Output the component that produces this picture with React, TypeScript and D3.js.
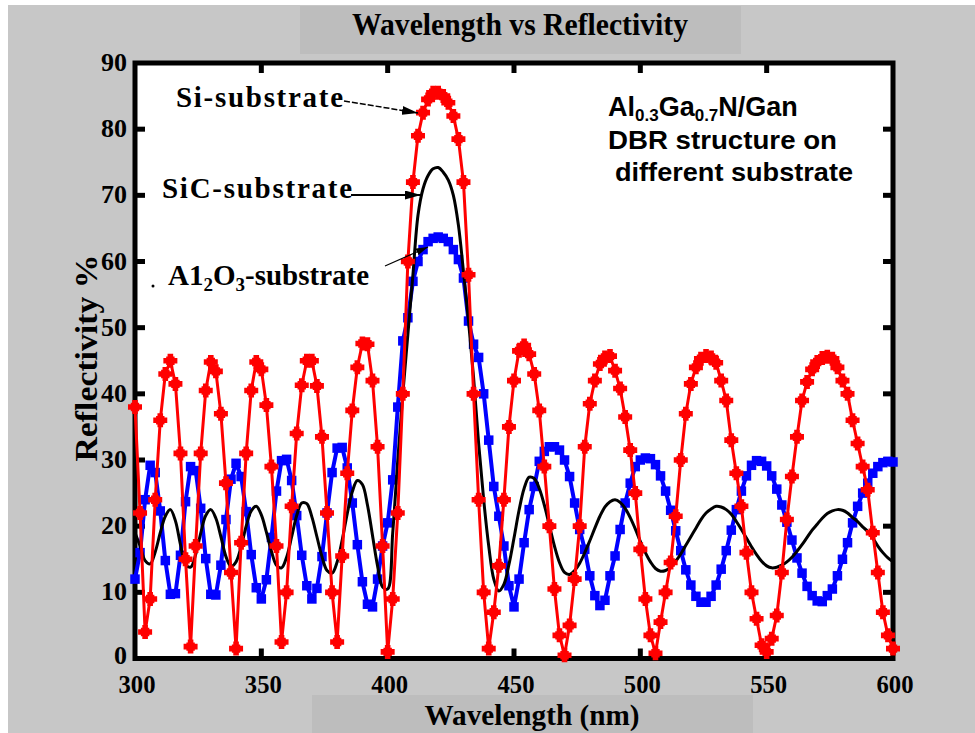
import React from "react";
import * as d3 from "d3";

const wavelengths = [
  300, 302, 304, 306, 308, 310, 312, 314, 316, 318,
  320, 322, 324, 326, 328, 330, 332, 334, 336, 338,
  340, 342, 344, 346, 348, 350, 352, 354, 356, 358,
  360, 362, 364, 366, 368, 370, 372, 374, 376, 378,
  380, 382, 384, 386, 388, 390, 392, 394, 396, 398,
  400, 402, 404, 406, 408, 410, 412, 414, 416, 418,
  420, 422, 424, 426, 428, 430, 432, 434, 436, 438,
  440, 442, 444, 446, 448, 450, 452, 454, 456, 458,
  460, 462, 464, 466, 468, 470, 472, 474, 476, 478,
  480, 482, 484, 486, 488, 490, 492, 494, 496, 498,
  500, 502, 504, 506, 508, 510, 512, 514, 516, 518,
  520, 522, 524, 526, 528, 530, 532, 534, 536, 538,
  540, 542, 544, 546, 548, 550, 552, 554, 556, 558,
  560, 562, 564, 566, 568, 570, 572, 574, 576, 578,
  580, 582, 584, 586, 588, 590, 592, 594, 596, 598,
  600,
];

// Si-substrate (red, cross markers)
const siSubstrate = [
  38, 22, 4, 9, 24, 36, 43, 45, 41.5, 31,
  15, 1.8, 17, 31, 40.5, 44.8, 43.4, 37, 26.5, 13,
  1.5, 17.5, 31, 40.5, 44.8, 43.7, 38.3, 29, 17, 2.5,
  10, 23, 34, 41.3, 45, 45, 41.2, 33.5, 22, 10,
  2.5, 15.5, 28, 37.5, 44, 47.6, 47.5, 42, 32, 17,
  1, 9, 22, 40, 60, 72, 79, 82.5, 84.5, 85.5,
  85.5, 85, 84, 82, 78.5, 72, 58, 40, 24, 10,
  1.5, 7, 14, 24, 35, 42, 46.5, 47.3, 46, 43,
  37.5, 29, 20, 10.5, 3.5, 0.5, 5, 12, 20, 32,
  38.5, 42, 44.5, 45.5, 45.7, 43.5, 40.8, 36.5, 31.5, 25,
  16.5, 9, 3.5, 0.8, 5.5, 10, 14.5, 21.5, 30, 37,
  41.5, 44, 45.3, 45.7, 45.5, 44.7, 42, 39, 33, 28,
  23, 16, 10, 6, 2, 1, 3, 6.5, 13, 21,
  27.5, 33.5, 39, 41.8, 43.7, 44.8, 45.4, 45.6, 45.3, 44,
  42, 40, 36, 32.5, 29, 25.5, 19, 13, 7, 3.5,
  1.5,
];

// SiC-substrate (black line)
const sicSubstrate = [
  19, 17, 14.8, 14.3, 16.1, 19, 21.5, 22.5, 20.8, 17.2,
  14.2, 13.8, 15.7, 18.9, 21.6, 22.5, 21.2, 18.4, 15.4, 13.9,
  14.6, 16.9, 20, 22.3, 23, 21.7, 19.1, 16.2, 14.1, 13.7,
  15.3, 18.4, 21.6, 23.5, 23.4, 21.4, 18.4, 15.4, 13.3, 12.9,
  14.6, 17.9, 21.9, 25.2, 26.9, 26.3, 23.2, 18.6, 14, 10.8,
  10.5, 19, 30, 40, 49, 58, 67, 71, 73, 74,
  74.2, 73.5, 72.3, 70, 65.5, 58.5, 51, 42.5, 32.5, 24,
  17, 12, 10.2, 11.2, 14.2, 18.2, 22.4, 25.7, 27.4, 27.2,
  25.7, 23.2, 20.1, 17, 14.5, 13, 12.7, 13.3, 14.4, 16,
  17.8, 19.7, 21.5, 22.9, 23.7, 24, 23.6, 22.7, 21.3, 19.6,
  17.7, 16, 14.6, 13.6, 13.2, 13.3, 13.8, 14.7, 15.8, 17.1,
  18.4, 19.7, 21, 22, 22.6, 23, 22.9, 22.5, 21.8, 20.7,
  19.5, 18.2, 16.9, 15.7, 14.7, 14, 13.7, 13.8, 14.1, 14.6,
  15.3, 16.2, 17.2, 18.3, 19.4, 20.3, 21.2, 21.9, 22.3, 22.5,
  22.4, 22, 21.3, 20.7, 19.9, 19.2, 18.2, 17, 16, 15.2,
  14.6,
];

// Al2O3-substrate (blue, square markers)
const al2o3Substrate = [
  12, 16, 24, 29.2, 28.1, 22.3, 14.8, 9.7, 9.8, 15.6,
  23.7, 29, 28.4, 22.7, 15.1, 9.7, 9.6, 14.1, 21, 27.1,
  29.5, 27.5, 22.2, 15.7, 10.7, 9, 11.9, 18.3, 25.3, 29.9,
  30.1, 26.9, 21.6, 15.6, 11, 9, 10.6, 15.4, 22, 28.1,
  31.8, 31.9, 28.8, 23.5, 17.2, 11.6, 8.2, 7.8, 12, 17,
  20.5, 27, 38, 48, 51.5, 57, 60, 61.8, 63, 63.5,
  63.7, 63.5, 63, 61.8, 60.3, 57.5, 51, 47.5, 45.5, 40,
  33, 26, 21.5, 17, 11, 7.8, 12, 17.5, 22.5, 26,
  29.8, 31.3, 32, 32, 31.5, 30, 27.5, 23.5, 19.5, 16.5,
  12.5, 9.5, 8, 8.8, 12.5, 15.5, 19.5, 23.5, 26.5, 29,
  30, 30.3, 30.2, 29.3, 27.6, 25.3, 22.4, 19.3, 16.3, 13.4,
  11.1, 9.4, 8.5, 8.5, 9.4, 11.1, 13.5, 16.3, 19.4, 22.5,
  25.3, 27.6, 29.2, 29.9, 29.8, 29.1, 27.6, 25.6, 23.2, 20.6,
  17.9, 15.2, 12.9, 10.9, 9.5, 8.7, 8.6, 9.5, 10.5, 12.5,
  15, 17.5, 20.5, 23, 25, 26.5, 28, 29, 29.6, 29.8,
  29.7,
];

const xTickValues = [300, 350, 400, 450, 500, 550, 600];
const yTickValues = [0, 10, 20, 30, 40, 50, 60, 70, 80, 90];
const chartTitle = "Wavelength vs Reflectivity";
const xAxisTitle = "Wavelength (nm)";
const yAxisTitle = "Reflectivity %";

export default function App() {
  const W = 975;
  const H = 733;
  const left = 135;
  const right = 893;
  const top = 63;
  const bottom = 658.5;
  const x = d3.scaleLinear().domain([300, 600]).range([left, right]);
  const y = d3.scaleLinear().domain([0, 90]).range([bottom, top]);
  const serif = "'Liberation Serif', 'Times New Roman', serif";
  const sans = "'Liberation Sans', Arial, sans-serif";

  const pts = (vals: number[]) => wavelengths.map((w, i) => [w, vals[i]] as [number, number]);
  const si = pts(siSubstrate);
  const sic = pts(sicSubstrate);
  const al = pts(al2o3Substrate);

  const straight = d3
    .line<[number, number]>()
    .x((d) => x(d[0]))
    .y((d) => y(d[1]));
  const smooth = d3
    .line<[number, number]>()
    .x((d) => x(d[0]))
    .y((d) => y(d[1]))
    .curve(d3.curveCatmullRom.alpha(0.5));

  const crossPath =
    "M-7,-2.8H-4.2V-4.2H-2.8V-7H2.8V-4.2H4.2V-2.8H7V2.8H4.2V4.2H2.8V7H-2.8V4.2H-4.2V2.8H-7Z";

  const innerTicksX = xTickValues.filter((v) => v !== 300 && v !== 600);
  const innerTicksY = yTickValues.filter((v) => v !== 0 && v !== 90);

  return (
    <svg
      width={W}
      height={H}
      viewBox={`0 0 ${W} ${H}`}
      style={{ position: "absolute", left: 0, top: 0, display: "block" }}
    >
      <defs>
        <marker
          id="arrowBig"
          markerUnits="userSpaceOnUse"
          viewBox="0 0 16 9"
          refX={16}
          refY={4.5}
          markerWidth={16}
          markerHeight={9}
          orient="auto"
        >
          <path d="M0,0L16,4.5L0,9Z" fill="#000" />
        </marker>
        <marker
          id="arrowSmall"
          markerUnits="userSpaceOnUse"
          viewBox="0 0 12 7"
          refX={12}
          refY={3.5}
          markerWidth={12}
          markerHeight={7}
          orient="auto"
        >
          <path d="M0,0L12,3.5L0,7Z" fill="#000" />
        </marker>
      </defs>

      <rect x={0} y={0} width={W} height={H} fill="#ffffff" />
      <rect x={8} y={5} width={W - 8} height={H - 5} fill="#c7c7c7" />
      <rect x={300} y={6} width={441} height={48} fill="#bdbdbd" />
      <rect x={312} y={695} width={441} height={38} fill="#bdbdbd" />

      {/* title */}
      <text
        x={520}
        y={35}
        textAnchor="middle"
        fontFamily={serif}
        fontWeight="bold"
        fontSize={32}
        textLength={336}
        lengthAdjust="spacingAndGlyphs"
        fill="#000"
      >
        {chartTitle}
      </text>

      {/* plot area */}
      <rect x={left} y={top} width={right - left} height={bottom - top} fill="#ffffff" />
      <rect
        x={left}
        y={top}
        width={right - left}
        height={bottom - top}
        fill="none"
        stroke="#000"
        strokeWidth={5}
      />
      {innerTicksX.map((v) => (
        <g key={`xt${v}`}>
          <line x1={x(v)} x2={x(v)} y1={bottom} y2={bottom - 10} stroke="#000" strokeWidth={5} />
          <line x1={x(v)} x2={x(v)} y1={top} y2={top + 10} stroke="#000" strokeWidth={5} />
        </g>
      ))}
      {innerTicksY.map((v) => (
        <g key={`yt${v}`}>
          <line x1={left} x2={left + 10} y1={y(v)} y2={y(v)} stroke="#000" strokeWidth={5} />
          <line x1={right} x2={right - 10} y1={y(v)} y2={y(v)} stroke="#000" strokeWidth={5} />
        </g>
      ))}

      {/* tick labels */}
      {xTickValues.map((v) => (
        <text
          key={`xl${v}`}
          x={x(v) + 2}
          y={693}
          textAnchor="middle"
          fontFamily={serif}
          fontWeight="bold"
          fontSize={26}
          textLength={37}
          lengthAdjust="spacingAndGlyphs"
          fill="#000"
        >
          {v}
        </text>
      ))}
      {yTickValues.map((v) => (
        <text
          key={`yl${v}`}
          x={127}
          y={v === 0 ? y(v) + 5 : y(v) + 8}
          textAnchor="end"
          fontFamily={serif}
          fontWeight="bold"
          fontSize={26}
          textLength={String(v).length * 13}
          lengthAdjust="spacingAndGlyphs"
          fill="#000"
        >
          {v}
        </text>
      ))}

      {/* axis titles */}
      <text
        x={532}
        y={725}
        textAnchor="middle"
        fontFamily={serif}
        fontWeight="bold"
        fontSize={29}
        textLength={215}
        lengthAdjust="spacingAndGlyphs"
        fill="#000"
      >
        {xAxisTitle}
      </text>
      <text
        transform={`translate(97,358) rotate(-90)`}
        textAnchor="middle"
        fontFamily={serif}
        fontWeight="bold"
        fontSize={31}
        textLength={207}
        lengthAdjust="spacingAndGlyphs"
        fill="#000"
      >
        {yAxisTitle}
      </text>

      {/* series */}
      <path d={straight(al) ?? ""} fill="none" stroke="#0000ff" strokeWidth={4} strokeLinejoin="round" />
      {al.map((d, i) => (
        <rect key={`al${i}`} x={x(d[0]) - 4.75} y={y(d[1]) - 4.75} width={9.5} height={9.5} fill="#0000ff" />
      ))}
      <path d={smooth(sic) ?? ""} fill="none" stroke="#000" strokeWidth={3} />
      <path d={straight(si) ?? ""} fill="none" stroke="#ff0000" strokeWidth={3} strokeLinejoin="round" />
      {si.map((d, i) => (
        <path key={`si${i}`} d={crossPath} transform={`translate(${x(d[0])},${y(d[1])})`} fill="#ff0000" />
      ))}

      {/* annotations */}
      <text
        x={176}
        y={107}
        fontFamily={serif}
        fontWeight="bold"
        fontSize={29}
        textLength={167}
        lengthAdjust="spacing"
        fill="#000"
      >
        Si-substrate
      </text>
      <line
        x1={344}
        y1={101}
        x2={418}
        y2={113}
        stroke="#000"
        strokeWidth={1.5}
        strokeDasharray="6,2"
        markerEnd="url(#arrowBig)"
      />
      <text
        x={162}
        y={198}
        fontFamily={serif}
        fontWeight="bold"
        fontSize={29}
        textLength={190}
        lengthAdjust="spacing"
        fill="#000"
      >
        SiC-substrate
      </text>
      <line x1={351} y1={195} x2={421} y2={195} stroke="#000" strokeWidth={2} markerEnd="url(#arrowBig)" />
      <circle cx={153} cy={286} r={1.5} fill="#000" />
      <text x={168} y={285} fontFamily={serif} fontWeight="bold" fontSize={29} fill="#000">
        A1
        <tspan fontSize={19} dy={6}>2</tspan>
        <tspan fontSize={29} dy={-6}>O</tspan>
        <tspan fontSize={19} dy={6}>3</tspan>
        <tspan fontSize={29} dy={-6}>-substrate</tspan>
      </text>
      <line x1={385} y1={266} x2={428} y2={247} stroke="#000" strokeWidth={1.2} markerEnd="url(#arrowSmall)" />

      <text x={608} y={116} fontFamily={sans} fontWeight="bold" fontSize={27} fill="#000">
        Al
        <tspan fontSize={17} dy={5}>0.3</tspan>
        <tspan fontSize={27} dy={-5}>Ga</tspan>
        <tspan fontSize={17} dy={5}>0.7</tspan>
        <tspan fontSize={27} dy={-5}>N/Gan</tspan>
      </text>
      <text
        x={608}
        y={149}
        fontFamily={sans}
        fontWeight="bold"
        fontSize={25}
        textLength={229}
        lengthAdjust="spacingAndGlyphs"
        fill="#000"
      >
        DBR structure on
      </text>
      <text
        x={615}
        y={181}
        fontFamily={sans}
        fontWeight="bold"
        fontSize={25}
        textLength={238}
        lengthAdjust="spacingAndGlyphs"
        fill="#000"
      >
        different substrate
      </text>
    </svg>
  );
}
